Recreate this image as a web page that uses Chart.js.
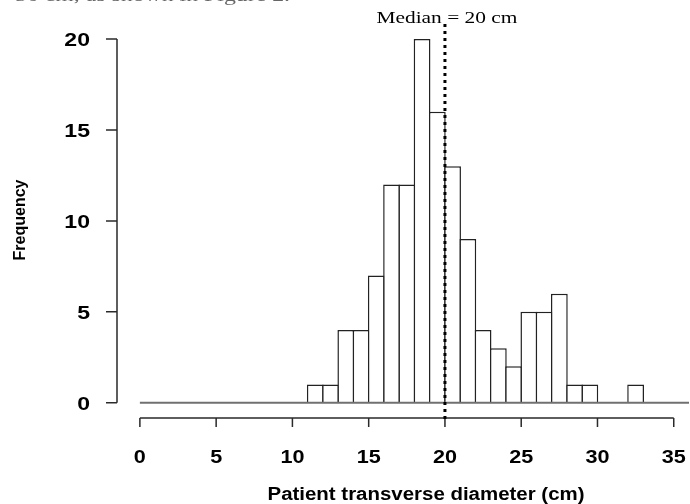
<!DOCTYPE html>
<html>
<head>
<meta charset="utf-8">
<script src="https://cdn.jsdelivr.net/npm/chart.js@4.4.1/dist/chart.umd.min.js"></script>
<style>
  html, body { margin: 0; padding: 0; background: #ffffff; }
  #wrap { width: 690px; height: 504px; position: relative; }
</style>
</head>
<body>
<div id="wrap"><canvas id="hist" width="690" height="504"></canvas></div>
<script>
// -----------------------------
// Data
// -----------------------------
const binStarts = [11, 12, 13, 14, 15, 16, 17, 18, 19, 20, 21, 22, 23, 24, 25, 26, 27, 28, 29, 30, 31, 32];
const frequencies = [1, 1, 4, 4, 7, 12, 12, 20, 16, 13, 9, 4, 3, 2, 5, 5, 6, 1, 1, 0, 0, 1];
const binWidth = 1;
const xTicks = [0, 5, 10, 15, 20, 25, 30, 35];
const yTicks = [0, 5, 10, 15, 20];
const medianValue = 20;
const medianLabel = 'Median = 20 cm';
const xTitle = 'Patient transverse diameter (cm)';
const yTitle = 'Frequency';
const pageFragment = '50 cm, as shown in Figure 2.';

// -----------------------------
// Styling
// -----------------------------
const axisColor = '#2a2a2a';
const baseColor = '#707070';
const sansBold = 'bold 18px "Liberation Sans", Arial, sans-serif';
const serif = '16.5px "Liberation Serif", "Times New Roman", serif';

// draws text squeezed/stretched horizontally (the source image is stretched)
function stretchText(ctx, text, x, y, font, sx, align) {
    ctx.save();
    ctx.font = font;
    ctx.textAlign = align || 'center';
    ctx.textBaseline = 'alphabetic';
    ctx.translate(x, y);
    ctx.scale(sx, 1);
    ctx.fillText(text, 0, 0);
    ctx.restore();
}

function fitText(ctx, text, x, y, font, width, align) {
    ctx.save();
    ctx.font = font;
    const w = ctx.measureText(text).width;
    ctx.restore();
    stretchText(ctx, text, x, y, font, width / w, align);
}

const histPlugin = {
    id: 'rHist',
    afterDatasetsDraw(chart) {
        const {ctx, scales: {x, y}, chartArea} = chart;
        // baseline under the bars
        ctx.save();
        ctx.strokeStyle = baseColor;
        ctx.lineWidth = 2;
        ctx.beginPath();
        ctx.moveTo(x.getPixelForValue(0), y.getPixelForValue(0));
        ctx.lineTo(chartArea.right, y.getPixelForValue(0));
        ctx.stroke();
        ctx.restore();
    },
    afterDraw(chart) {
        const {ctx, scales: {x, y}, chartArea} = chart;
        ctx.save();
        ctx.fillStyle = '#000';
        ctx.strokeStyle = axisColor;
        ctx.lineWidth = 1.5;

        // y axis
        const yAxisX = chartArea.left;
        ctx.beginPath();
        ctx.moveTo(yAxisX, y.getPixelForValue(yTicks[0]));
        ctx.lineTo(yAxisX, y.getPixelForValue(yTicks[yTicks.length - 1]));
        yTicks.forEach(v => {
            const py = y.getPixelForValue(v);
            ctx.moveTo(yAxisX, py);
            ctx.lineTo(yAxisX - 11, py);
        });
        ctx.stroke();
        yTicks.forEach(v => {
            stretchText(ctx, String(v), 90, y.getPixelForValue(v) + 7, sansBold, 1.28, 'right');
        });

        // x axis
        const xAxisY = 418;
        ctx.beginPath();
        ctx.moveTo(x.getPixelForValue(xTicks[0]), xAxisY);
        ctx.lineTo(x.getPixelForValue(xTicks[xTicks.length - 1]), xAxisY);
        xTicks.forEach(v => {
            const px = x.getPixelForValue(v);
            ctx.moveTo(px, xAxisY);
            ctx.lineTo(px, xAxisY + 9);
        });
        ctx.stroke();
        xTicks.forEach(v => {
            stretchText(ctx, String(v), x.getPixelForValue(v), 463, sansBold, 1.2, 'center');
        });

        // median line
        const mx = x.getPixelForValue(medianValue);
        ctx.strokeStyle = '#000';
        ctx.lineWidth = 3;
        ctx.setLineDash([3, 4]);
        ctx.beginPath();
        ctx.moveTo(mx, 24);
        ctx.lineTo(mx, 421);
        ctx.stroke();
        ctx.setLineDash([]);

        // texts
        fitText(ctx, medianLabel, mx + 2, 22.5, serif, 141, 'center');
        fitText(ctx, xTitle, 426, 499.5, sansBold, 317, 'center');

        ctx.save();
        ctx.translate(25, 220);
        ctx.rotate(-Math.PI / 2);
        ctx.font = 'bold 16px "Liberation Sans", Arial, sans-serif';
        ctx.textAlign = 'center';
        ctx.textBaseline = 'alphabetic';
        ctx.fillText(yTitle, 0, 0);
        ctx.restore();

        // clipped line of the surrounding document
        ctx.fillStyle = '#666';
        stretchText(ctx, pageFragment, 15, 1, '17px "Liberation Serif", serif', 1.4, 'left');
        ctx.restore();
    }
};

const histData = binStarts.map((s, i) => ({x: s + binWidth / 2, y: frequencies[i]}));

new Chart(document.getElementById('hist'), {
    type: 'bar',
    data: {
        datasets: [{
            data: histData,
            backgroundColor: '#ffffff',
            borderColor: '#222222',
            borderWidth: 1.5,
            borderSkipped: 'start',
            inflateAmount: 0,
            barPercentage: 1.1,
            categoryPercentage: 1
        }]
    },
    options: {
        responsive: false,
        animation: false,
        layout: {padding: {left: 117, right: 1, top: 30, bottom: 74}},
        plugins: {legend: {display: false}, tooltip: {enabled: false}},
        scales: {
            x: {type: 'linear', min: -1.5, max: 36, offset: false, display: false},
            y: {min: -1.5, max: 20.5, display: false}
        }
    },
    plugins: [histPlugin]
});
</script>
</body>
</html>
